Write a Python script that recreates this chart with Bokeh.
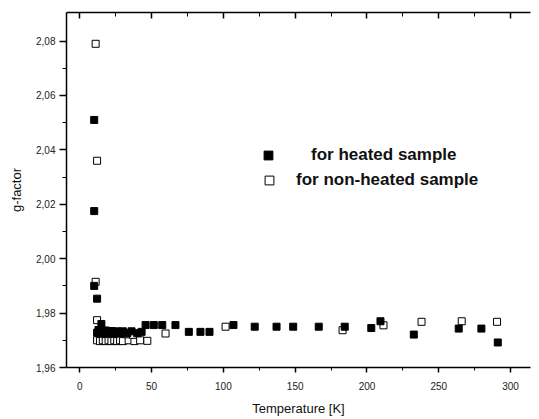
from bokeh.plotting import figure
from bokeh.models import (ColumnDataSource, LinearAxis, FixedTicker, CustomJSTickFormatter,
                          Legend, LegendItem, Range1d, CustomLabelingPolicy)
from bokeh.embed import file_html
from bokeh.resources import INLINE

# ---- data ----
heated_T = [10, 10, 10, 12,
            12, 13, 14, 15, 16, 17, 18, 20, 22, 24, 26, 28, 30, 33, 36, 40, 43,
            45.8, 51.5, 57.4, 66.6, 75.9, 84, 90.3, 107, 121.8, 137, 148.6, 166.4,
            184.5, 203, 209.4, 232.6, 263.9, 279.7, 291.1]
heated_g = [2.051, 2.0175, 1.990, 1.9853,
            1.9728, 1.9738, 1.9725, 1.976, 1.9735, 1.9724, 1.9736, 1.9726, 1.9734, 1.9724,
            1.9733, 1.9725, 1.9733, 1.9726, 1.9733, 1.9726, 1.9731,
            1.9756, 1.9756, 1.9756, 1.9756, 1.9731, 1.9731, 1.9731, 1.9756, 1.975, 1.975,
            1.975, 1.975, 1.975, 1.9745, 1.977, 1.9721, 1.9743, 1.9743, 1.9692]

nonheated_T = [11, 12, 11, 12,
               12, 14, 16, 18, 20, 22, 24, 26, 28, 30, 34, 38, 42, 47,
               33, 37,
               59.7, 101.5, 183, 211.5, 238, 266, 290.6]
nonheated_g = [2.079, 2.036, 1.9915, 1.9774,
               1.9700, 1.9697, 1.9700, 1.9697, 1.9700, 1.9697, 1.9700, 1.9697, 1.9700,
               1.9697, 1.9700, 1.9697, 1.9700, 1.9698,
               1.9722, 1.9720,
               1.9725, 1.975, 1.9737, 1.9755, 1.9768, 1.977, 1.9768]

y_ticks = [1.96, 1.98, 2.00, 2.02, 2.04, 2.06, 2.08]
y_minor = [1.97, 1.99, 2.01, 2.03, 2.05, 2.07]
x_ticks = [0, 50, 100, 150, 200, 250, 300]
x_minor = [25, 75, 125, 175, 225, 275]

FONT = "Liberation Sans"

p = figure(width=536, height=418, output_backend="svg", toolbar_location=None,
           x_range=Range1d(-9.3, 313.9), y_range=Range1d(1.96, 2.0905),
           min_border_left=66, min_border_right=6, min_border_top=12, min_border_bottom=49,
           x_axis_label="Temperature [K]", y_axis_label="g-factor")
p.grid.visible = False
p.outline_line_color = None
p.background_fill_color = "white"
p.border_fill_color = "white"

src_h = ColumnDataSource(dict(x=heated_T, y=heated_g))
src_n = ColumnDataSource(dict(x=nonheated_T, y=nonheated_g))
rn = p.scatter("x", "y", source=src_n, marker="square", size=7, fill_color="white",
               line_color="black", line_width=1)
rh = p.scatter("x", "y", source=src_h, marker="square", size=7, fill_color="black",
               line_color="black")

fmt = CustomJSTickFormatter(code="return tick.toFixed(2).replace('.', ',');")

xa = p.xaxis[0]
xa.ticker = FixedTicker(ticks=x_ticks, minor_ticks=x_minor)
ya = p.yaxis[0]
ya.ticker = FixedTicker(ticks=y_ticks, minor_ticks=y_minor)
ya.formatter = fmt

for ax in (xa, ya):
    ax.axis_line_color = "black"
    ax.axis_line_width = 1.5
    ax.major_tick_line_color = "black"
    ax.minor_tick_line_color = "black"
    ax.major_tick_line_width = 1.5
    ax.major_tick_in = 0
    ax.minor_tick_in = 0
    ax.major_label_text_font = FONT
    ax.major_label_text_font_size = "10px"
    ax.major_label_text_color = "#222222"
    ax.axis_label_text_font = FONT
    ax.axis_label_text_font_size = "13px"
    ax.axis_label_text_font_style = "normal"
    ax.axis_label_text_color = "#111111"

xa.major_tick_out = 5
xa.minor_tick_out = 3
xa.major_label_standoff = 9
xa.axis_label_standoff = 8
ya.major_tick_out = 7
ya.minor_tick_out = 4
ya.major_label_standoff = 4
ya.axis_label_standoff = 9

top = LinearAxis(ticker=FixedTicker(ticks=x_ticks, minor_ticks=x_minor))
top.major_label_policy = CustomLabelingPolicy(
    code="for (const i of indices) { indices.unset(i) } return indices")
top.major_label_standoff = 0
top.major_tick_out = 0
top.minor_tick_out = 0
top.major_tick_in = 6
top.minor_tick_in = 4
top.axis_line_width = 1.5
top.major_tick_line_width = 1.5
p.add_layout(top, "above")

leg1 = Legend(items=[LegendItem(label="for heated sample", renderers=[rh])],
              location=(191, 201), glyph_width=22, glyph_height=22, label_height=22,
              label_standoff=32, padding=0, margin=0, border_line_color=None,
              background_fill_alpha=0, label_text_font=FONT, label_text_font_size="17px",
              label_text_font_style="bold", label_text_color="#111111")
leg2 = Legend(items=[LegendItem(label="for non-heated sample", renderers=[rn])],
              location=(192, 176), glyph_width=22, glyph_height=22, label_height=22,
              label_standoff=16, padding=0, margin=0, border_line_color=None,
              background_fill_alpha=0, label_text_font=FONT, label_text_font_size="17px",
              label_text_font_style="bold", label_text_color="#111111")
p.add_layout(leg1, "center")
p.add_layout(leg2, "center")

open("out.html", "w").write(file_html(p, INLINE))
